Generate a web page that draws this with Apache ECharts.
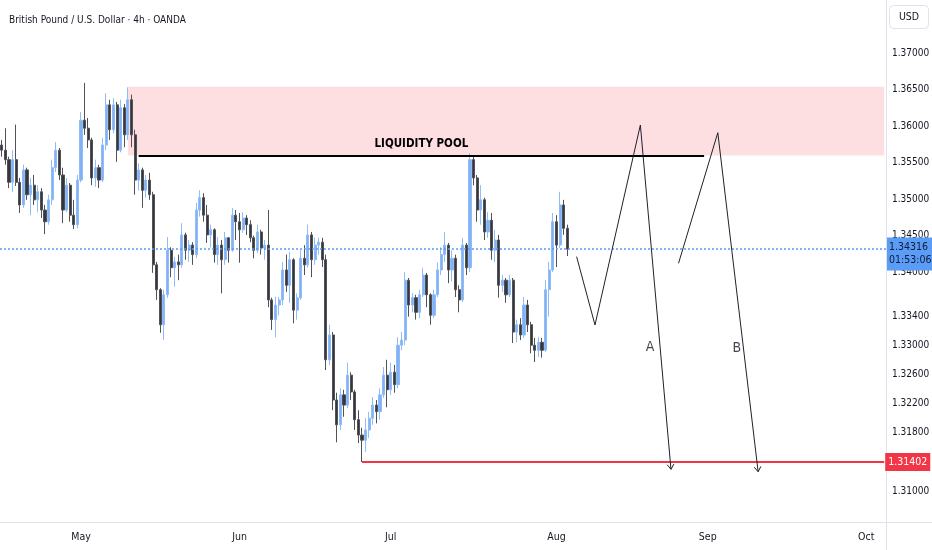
<!DOCTYPE html>
<html>
<head>
<meta charset="utf-8">
<script src="https://cdn.jsdelivr.net/npm/echarts@6/dist/echarts.min.js"></script>
<style>
html,body{margin:0;padding:0;background:#fff;overflow:hidden;}
#c{width:932px;height:550px;}
</style>
</head>
<body>
<div id="c"></div>
<script>
// ---- Data (GBP/USD 4h; one candle per half trading day) ----
const startDate = '2025-04-16';
const endDate = '2025-10-03';
const opens = [1.3574,1.3567,1.3554,1.3523,1.3554,1.3523,1.3492,1.3540,1.3506,1.3519,1.3499,1.3510,1.3485,1.3469,1.3499,1.3543,1.3567,1.3533,1.3485,1.3519,1.3478,1.3465,1.3526,1.3608,1.3597,1.3581,1.3529,1.3543,1.3526,1.3574,1.3629,1.3595,1.3629,1.3567,1.3625,1.3588,1.3636,1.3588,1.3526,1.3540,1.3512,1.3526,1.3506,1.3410,1.3376,1.3328,1.3369,1.3430,1.3406,1.3414,1.3410,1.3451,1.3430,1.3437,1.3424,1.3485,1.3502,1.3478,1.3451,1.3458,1.3424,1.3437,1.3417,1.3447,1.3430,1.3478,1.3469,1.3458,1.3474,1.3465,1.3447,1.3430,1.3455,1.3433,1.3437,1.3362,1.3335,1.3355,1.3362,1.3403,1.3382,1.3417,1.3348,1.3365,1.3419,1.3410,1.3451,1.3417,1.3437,1.3441,1.3417,1.3280,1.3314,1.3225,1.3191,1.3232,1.3218,1.3259,1.3236,1.3198,1.3177,1.3170,1.3184,1.3200,1.3218,1.3209,1.3232,1.3259,1.3239,1.3263,1.3246,1.3300,1.3307,1.3389,1.3355,1.3365,1.3345,1.3369,1.3396,1.3369,1.3341,1.3369,1.3403,1.3424,1.3437,1.3403,1.3419,1.3376,1.3362,1.3437,1.3406,1.3554,1.3529,1.3485,1.3499,1.3455,1.3471,1.3430,1.3444,1.3382,1.3389,1.3369,1.3389,1.3318,1.3328,1.3314,1.3355,1.3328,1.3300,1.3293,1.3304,1.3293,1.3376,1.3403,1.3469,1.3437,1.3492,1.3460];
const highs = [1.3581,1.3597,1.3558,1.3567,1.3602,1.3529,1.3547,1.3543,1.3529,1.3533,1.3519,1.3515,1.3492,1.3506,1.3554,1.3578,1.3570,1.3543,1.3529,1.3522,1.3499,1.3533,1.3619,1.3659,1.3611,1.3584,1.3554,1.3547,1.3584,1.3645,1.3636,1.3638,1.3633,1.3636,1.3630,1.3653,1.3643,1.3595,1.3549,1.3543,1.3533,1.3536,1.3510,1.3414,1.3378,1.3376,1.3448,1.3434,1.3421,1.3424,1.3467,1.3454,1.3444,1.3441,1.3495,1.3512,1.3508,1.3492,1.3465,1.3460,1.3448,1.3444,1.3455,1.3448,1.3488,1.3485,1.3481,1.3482,1.3478,1.3471,1.3450,1.3465,1.3458,1.3444,1.3485,1.3365,1.3366,1.3366,1.3414,1.3424,1.3428,1.3419,1.3371,1.3430,1.3437,1.3465,1.3455,1.3447,1.3447,1.3447,1.3424,1.3328,1.3318,1.3235,1.3241,1.3239,1.3276,1.3263,1.3239,1.3211,1.3187,1.3200,1.3209,1.3229,1.3225,1.3241,1.3270,1.3280,1.3276,1.3273,1.3311,1.3318,1.3400,1.3392,1.3371,1.3369,1.3376,1.3406,1.3399,1.3371,1.3376,1.3413,1.3434,1.3455,1.3440,1.3430,1.3424,1.3382,1.3447,1.3440,1.3563,1.3558,1.3533,1.3519,1.3502,1.3482,1.3481,1.3458,1.3451,1.3396,1.3392,1.3396,1.3392,1.3335,1.3337,1.3366,1.3362,1.3332,1.3310,1.3311,1.3310,1.3389,1.3414,1.3481,1.3478,1.3510,1.3499,1.3465];
const lows = [1.3558,1.3547,1.3515,1.3510,1.3518,1.3481,1.3488,1.3499,1.3478,1.3492,1.3482,1.3474,1.3452,1.3465,1.3492,1.3537,1.3526,1.3467,1.3482,1.3469,1.3459,1.3460,1.3523,1.3588,1.3570,1.3519,1.3517,1.3515,1.3523,1.3567,1.3581,1.3590,1.3551,1.3564,1.3571,1.3581,1.3571,1.3506,1.3512,1.3488,1.3502,1.3499,1.3399,1.3362,1.3317,1.3307,1.3365,1.3393,1.3380,1.3389,1.3406,1.3417,1.3414,1.3410,1.3419,1.3476,1.3469,1.3440,1.3434,1.3413,1.3410,1.3371,1.3410,1.3413,1.3428,1.3444,1.3413,1.3454,1.3451,1.3441,1.3419,1.3426,1.3424,1.3417,1.3352,1.3321,1.3311,1.3341,1.3355,1.3373,1.3358,1.3330,1.3335,1.3362,1.3396,1.3406,1.3393,1.3410,1.3424,1.3407,1.3266,1.3273,1.3211,1.3167,1.3184,1.3202,1.3214,1.3225,1.3184,1.3166,1.31402,1.3154,1.3173,1.3191,1.3193,1.3198,1.3228,1.3215,1.3232,1.3235,1.3241,1.3293,1.3300,1.3339,1.3345,1.3335,1.3337,1.3366,1.3352,1.3328,1.3337,1.3366,1.3396,1.3414,1.3385,1.3387,1.3366,1.3345,1.3359,1.3396,1.3400,1.3519,1.3469,1.3465,1.3444,1.3447,1.3417,1.3414,1.3365,1.3373,1.3358,1.3366,1.3303,1.3304,1.3307,1.3310,1.3318,1.3289,1.3277,1.3284,1.3283,1.3291,1.3339,1.3400,1.3407,1.3433,1.3451,1.3422];
const closes = [1.3567,1.3554,1.3523,1.3554,1.3523,1.3492,1.3540,1.3506,1.3519,1.3499,1.3510,1.3485,1.3469,1.3499,1.3543,1.3567,1.3533,1.3485,1.3519,1.3478,1.3465,1.3526,1.3608,1.3597,1.3581,1.3529,1.3543,1.3526,1.3574,1.3629,1.3595,1.3629,1.3567,1.3625,1.3588,1.3636,1.3588,1.3526,1.3540,1.3512,1.3526,1.3506,1.3410,1.3376,1.3328,1.3369,1.3430,1.3406,1.3414,1.3410,1.3451,1.3430,1.3437,1.3424,1.3485,1.3502,1.3478,1.3451,1.3458,1.3424,1.3437,1.3417,1.3447,1.3430,1.3478,1.3469,1.3458,1.3474,1.3465,1.3447,1.3430,1.3455,1.3433,1.3437,1.3362,1.3335,1.3355,1.3362,1.3403,1.3382,1.3417,1.3348,1.3365,1.3419,1.3410,1.3451,1.3417,1.3437,1.3441,1.3417,1.3280,1.3314,1.3225,1.3191,1.3232,1.3218,1.3259,1.3236,1.3198,1.3177,1.3170,1.3184,1.3200,1.3218,1.3209,1.3232,1.3259,1.3239,1.3263,1.3246,1.3300,1.3307,1.3389,1.3355,1.3365,1.3345,1.3369,1.3396,1.3369,1.3341,1.3369,1.3403,1.3424,1.3437,1.3403,1.3419,1.3376,1.3362,1.3437,1.3406,1.3554,1.3529,1.3485,1.3499,1.3455,1.3471,1.3430,1.3444,1.3382,1.3389,1.3369,1.3389,1.3318,1.3328,1.3314,1.3355,1.3328,1.3300,1.3293,1.3304,1.3293,1.3376,1.3403,1.3469,1.3437,1.3492,1.3460,1.34316];

const yTickLabels = [1.37, 1.365, 1.36, 1.355, 1.35, 1.345, 1.34, 1.334, 1.33, 1.326, 1.322, 1.318, 1.31];
const monthNames = ['Jan','Feb','Mar','Apr','May','Jun','Jul','Aug','Sep','Oct','Nov','Dec'];

// Annotations (bar index, price)
const zoneTop = 1.36539, zoneBottom = 1.35598, zoneStart = 35;
const poolLevel = 1.35598, poolStart = 38, poolEnd = 195;
const lowLevel = 1.31402, lowStart = 100;
const lastPrice = 1.34316, countdown = '01:53:06';
const pathA = [[159.6, 1.34212], [164.7, 1.33277], [177.3, 1.36014], [185.8, 1.31301]];
const pathB = [[187.9, 1.34121], [198.8, 1.35909], [210.0, 1.31268]];
const scenarioLabels = [{name: 'A', value: [180.0, 1.32966]}, {name: 'B', value: [204.1, 1.32962]}];

// ---- Build categories: two candles per weekday ----
function buildCats(s, e) {
  const out = [];
  const d = new Date(s + 'T00:00:00Z');
  const end = new Date(e + 'T00:00:00Z');
  while (d <= end) {
    const wd = d.getUTCDay();
    if (wd !== 0 && wd !== 6) {
      const iso = d.toISOString().slice(0, 10);
      out.push(iso + ' 00:00');
      out.push(iso + ' 12:00');
    }
    d.setUTCDate(d.getUTCDate() + 1);
  }
  return out;
}
const cats = buildCats(startDate, endDate);
const N = cats.length;
const candles = opens.map((o, i) => [o, closes[i], lows[i], highs[i]]);

function segs(path) {
  const r = [];
  for (let i = 0; i < path.length - 1; i++) {
    r.push([path[i][0], path[i][1], path[i + 1][0], path[i + 1][1], i === path.length - 2 ? 1 : 0]);
  }
  return r;
}
const drawSegs = segs(pathA).concat(segs(pathB));

const FONT = "'DejaVu Sans Condensed', 'Roboto', 'Liberation Sans', sans-serif";
const TXT = '#131722';
const SEP = '#e0e3eb';

const chart = echarts.init(document.getElementById('c'), null, {renderer: 'canvas'});
chart.setOption({
  animation: false,
  backgroundColor: '#ffffff',
  textStyle: {fontFamily: FONT},
  title: {
    text: 'British Pound / U.S. Dollar · 4h · OANDA',
    left: 4, top: 10,
    textStyle: {fontSize: 10, fontWeight: 'normal', color: TXT, fontFamily: FONT}
  },
  grid: {left: 0, right: 46, top: 0, bottom: 28, containLabel: false, outerBoundsMode: 'none'},
  xAxis: [{
    type: 'category',
    data: cats,
    boundaryGap: true,
    axisLine: {show: false},
    axisTick: {show: false},
    splitLine: {show: false},
    axisLabel: {
      color: TXT, fontSize: 10.5, margin: 10, fontFamily: FONT,
      interval: (i) => i > 0 && cats[i].slice(0, 7) !== cats[i - 1].slice(0, 7),
      formatter: (v) => monthNames[parseInt(v.slice(5, 7), 10) - 1]
    }
  }, {
    type: 'value', min: -0.5, max: N - 0.5, show: false
  }],
  yAxis: {
    type: 'value',
    position: 'right',
    min: 1.305797,
    max: 1.377255,
    scale: true,
    axisLine: {show: false, onZero: false},
    axisTick: {show: false, customValues: yTickLabels},
    splitLine: {show: false},
    axisLabel: {
      customValues: yTickLabels,
      color: TXT, fontSize: 10, margin: 6, fontFamily: FONT,
      formatter: (v) => v.toFixed(5)
    }
  },
  series: [{
    type: 'candlestick',
    data: candles,
    barWidth: 2.6,
    silent: true,
    itemStyle: {
      color: '#80b2f5', color0: '#35373c',
      borderColor: '#90bcf7', borderColor0: '#505257',
      borderWidth: 1
    },
    markArea: {
      silent: true,
      itemStyle: {color: 'rgba(248,160,166,0.34)'},
      data: [[{coord: [cats[zoneStart], zoneTop]}, {coord: [cats[N - 1], zoneBottom]}]]
    },
    markLine: {
      silent: true,
      symbol: ['none', 'none'],
      precision: 5,
      data: [
        {
          yAxis: lastPrice,
          lineStyle: {color: '#5b9cf6', type: [2, 2], width: 1.5},
          label: {
            show: true, position: 'end', distance: 1, offset: [0, 5],
            formatter: lastPrice.toFixed(5) + '\n' + countdown,
            backgroundColor: '#5b9cf6', color: '#0d1b33',
            fontSize: 10.5, lineHeight: 13, padding: [3, 2, 4, 2], fontFamily: FONT
          }
        },
        [
          {coord: [cats[poolStart], poolLevel],
           lineStyle: {color: '#000000', type: 'solid', width: 2},
           label: {show: true, position: 'insideMiddleTop', distance: 5, formatter: 'LIQUIDITY POOL',
                   color: '#000000', fontSize: 11.5, fontWeight: 'bold', fontFamily: FONT}},
          {coord: [cats[poolEnd], poolLevel]}
        ],
        [
          {coord: [cats[lowStart], lowLevel],
           lineStyle: {color: '#f23645', type: 'solid', width: 2},
           label: {show: true, position: 'end', distance: 1, formatter: lowLevel.toFixed(5),
                   backgroundColor: '#f23645', color: '#ffffff', fontSize: 10.5,
                   padding: [4, 3, 3, 3], fontFamily: FONT}},
          {coord: [cats[N - 1], lowLevel]}
        ]
      ]
    }
  }, {
    type: 'custom',
    xAxisIndex: 1,
    yAxisIndex: 0,
    silent: true,
    data: drawSegs,
    encode: {x: [0, 2], y: [1, 3]},
    renderItem: function (params, api) {
      const p1 = api.coord([api.value(0), api.value(1)]);
      const p2 = api.coord([api.value(2), api.value(3)]);
      const children = [{
        type: 'line',
        shape: {x1: p1[0], y1: p1[1], x2: p2[0], y2: p2[1]},
        style: {stroke: '#1e222d', lineWidth: 1}
      }];
      if (api.value(4) === 1) {
        const ang = Math.atan2(p2[1] - p1[1], p2[0] - p1[0]) + Math.PI;
        const len = 6, spread = 0.6;
        const a1 = [p2[0] + len * Math.cos(ang - spread), p2[1] + len * Math.sin(ang - spread)];
        const a2 = [p2[0] + len * Math.cos(ang + spread), p2[1] + len * Math.sin(ang + spread)];
        children.push({
          type: 'polyline',
          shape: {points: [a1, p2, a2]},
          style: {stroke: '#1e222d', lineWidth: 1, fill: null}
        });
      }
      return {type: 'group', children: children};
    },
    z: 5
  }, {
    type: 'scatter',
    xAxisIndex: 1,
    yAxisIndex: 0,
    silent: true,
    symbolSize: 0,
    data: scenarioLabels,
    label: {show: true, position: 'inside', formatter: '{b}', color: TXT, fontSize: 14, fontFamily: FONT},
    z: 6
  }],
  graphic: [{
    type: 'line', silent: true,
    shape: {x1: 886.5, y1: 0, x2: 886.5, y2: 550},
    style: {stroke: SEP, lineWidth: 1}
  }, {
    type: 'line', silent: true,
    shape: {x1: 0, y1: 522.5, x2: 932, y2: 522.5},
    style: {stroke: SEP, lineWidth: 1}
  }, {
    type: 'group',
    left: 889, top: 5,
    children: [{
      type: 'rect',
      shape: {x: 0, y: 0, width: 39, height: 23, r: 4},
      style: {fill: '#ffffff', stroke: SEP, lineWidth: 1}
    }, {
      type: 'text',
      x: 19.5, y: 11.5,
      style: {text: 'USD', fill: TXT, font: "10.5px " + FONT, align: 'center', verticalAlign: 'middle'}
    }]
  }]
});
</script>
</body>
</html>
